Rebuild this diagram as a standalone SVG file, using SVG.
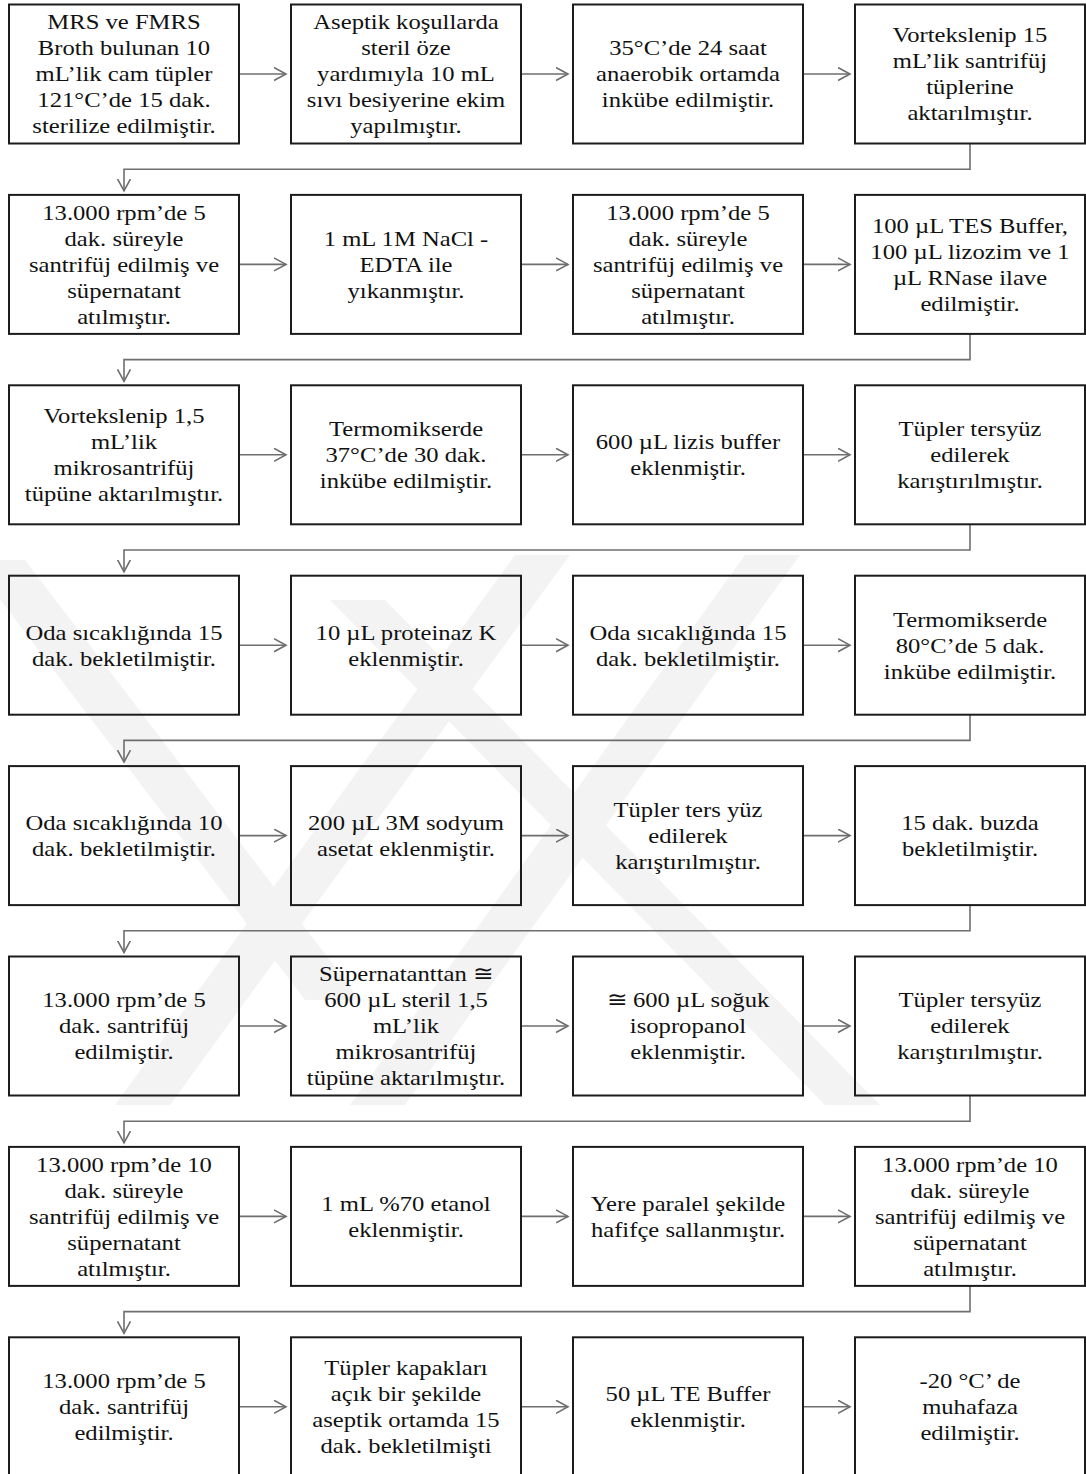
<svg xmlns="http://www.w3.org/2000/svg" width="1086" height="1474" viewBox="0 0 1086 1474">
<style>
.box{fill:none;stroke:#1c1c1c;stroke-width:2}
.t{font-family:"Liberation Serif",Tinos,"Times New Roman","DejaVu Serif",serif;font-size:22px;fill:#111;text-anchor:middle}
.c{fill:none;stroke:#6e6e6e;stroke-width:1.6}
.wm{fill:#f3f3f3}
</style>
<defs>
<marker id="ah" markerUnits="userSpaceOnUse" markerWidth="16" markerHeight="16" refX="12" refY="7" orient="auto">
<path d="M0,0.5 L12,7 L0,13.5" fill="none" stroke="#6e6e6e" stroke-width="1.6"/>
</marker>
</defs>
<rect width="1086" height="1474" fill="#fff"/>
<g id="watermark">
<polygon class="wm" points="515,555 570,555 170,1105 115,1105"/>
<polygon class="wm" points="745,555 800,555 405,1105 350,1105"/>
<polygon class="wm" points="-30,560 25,560 360,1000 305,1000"/>
<polygon class="wm" points="330,600 385,600 880,1105 825,1105"/>
</g>
<g id="connectors">
<line class="c" x1="239" y1="74" x2="286" y2="74" marker-end="url(#ah)"/>
<line class="c" x1="521" y1="74" x2="568" y2="74" marker-end="url(#ah)"/>
<line class="c" x1="803" y1="74" x2="850" y2="74" marker-end="url(#ah)"/>
<path class="c" d="M970,143.5 V169.2 H124 V190.9" marker-end="url(#ah)"/>
<line class="c" x1="239" y1="264.4" x2="286" y2="264.4" marker-end="url(#ah)"/>
<line class="c" x1="521" y1="264.4" x2="568" y2="264.4" marker-end="url(#ah)"/>
<line class="c" x1="803" y1="264.4" x2="850" y2="264.4" marker-end="url(#ah)"/>
<path class="c" d="M970,333.9 V359.6 H124 V381.3" marker-end="url(#ah)"/>
<line class="c" x1="239" y1="454.8" x2="286" y2="454.8" marker-end="url(#ah)"/>
<line class="c" x1="521" y1="454.8" x2="568" y2="454.8" marker-end="url(#ah)"/>
<line class="c" x1="803" y1="454.8" x2="850" y2="454.8" marker-end="url(#ah)"/>
<path class="c" d="M970,524.3 V550 H124 V571.7" marker-end="url(#ah)"/>
<line class="c" x1="239" y1="645.2" x2="286" y2="645.2" marker-end="url(#ah)"/>
<line class="c" x1="521" y1="645.2" x2="568" y2="645.2" marker-end="url(#ah)"/>
<line class="c" x1="803" y1="645.2" x2="850" y2="645.2" marker-end="url(#ah)"/>
<path class="c" d="M970,714.7 V740.4 H124 V762.1" marker-end="url(#ah)"/>
<line class="c" x1="239" y1="835.6" x2="286" y2="835.6" marker-end="url(#ah)"/>
<line class="c" x1="521" y1="835.6" x2="568" y2="835.6" marker-end="url(#ah)"/>
<line class="c" x1="803" y1="835.6" x2="850" y2="835.6" marker-end="url(#ah)"/>
<path class="c" d="M970,905.1 V930.8 H124 V952.5" marker-end="url(#ah)"/>
<line class="c" x1="239" y1="1026" x2="286" y2="1026" marker-end="url(#ah)"/>
<line class="c" x1="521" y1="1026" x2="568" y2="1026" marker-end="url(#ah)"/>
<line class="c" x1="803" y1="1026" x2="850" y2="1026" marker-end="url(#ah)"/>
<path class="c" d="M970,1095.5 V1121.2 H124 V1142.9" marker-end="url(#ah)"/>
<line class="c" x1="239" y1="1216.4" x2="286" y2="1216.4" marker-end="url(#ah)"/>
<line class="c" x1="521" y1="1216.4" x2="568" y2="1216.4" marker-end="url(#ah)"/>
<line class="c" x1="803" y1="1216.4" x2="850" y2="1216.4" marker-end="url(#ah)"/>
<path class="c" d="M970,1285.9 V1311.6 H124 V1333.3" marker-end="url(#ah)"/>
<line class="c" x1="239" y1="1406.8" x2="286" y2="1406.8" marker-end="url(#ah)"/>
<line class="c" x1="521" y1="1406.8" x2="568" y2="1406.8" marker-end="url(#ah)"/>
<line class="c" x1="803" y1="1406.8" x2="850" y2="1406.8" marker-end="url(#ah)"/>
</g>
<g id="n1"><rect class="box" x="9" y="4.5" width="230" height="139"/><text class="t" transform="matrix(1.12 0 0 1 124 0)" y="29.5"><tspan x="0">MRS ve FMRS</tspan><tspan x="0" dy="26">Broth bulunan 10</tspan><tspan x="0" dy="26">mL’lik cam tüpler</tspan><tspan x="0" dy="26">121°C’de 15 dak.</tspan><tspan x="0" dy="26">sterilize edilmiştir.</tspan></text></g>
<g id="n2"><rect class="box" x="291" y="4.5" width="230" height="139"/><text class="t" transform="matrix(1.12 0 0 1 406 0)" y="29.5"><tspan x="0">Aseptik koşullarda</tspan><tspan x="0" dy="26">steril öze</tspan><tspan x="0" dy="26">yardımıyla 10 mL</tspan><tspan x="0" dy="26">sıvı besiyerine ekim</tspan><tspan x="0" dy="26">yapılmıştır.</tspan></text></g>
<g id="n3"><rect class="box" x="573" y="4.5" width="230" height="139"/><text class="t" transform="matrix(1.12 0 0 1 688 0)" y="55.5"><tspan x="0">35°C’de 24 saat</tspan><tspan x="0" dy="26">anaerobik ortamda</tspan><tspan x="0" dy="26">inkübe edilmiştir.</tspan></text></g>
<g id="n4"><rect class="box" x="855" y="4.5" width="230" height="139"/><text class="t" transform="matrix(1.12 0 0 1 970 0)" y="42.5"><tspan x="0">Vortekslenip 15</tspan><tspan x="0" dy="26">mL’lik santrifüj</tspan><tspan x="0" dy="26">tüplerine</tspan><tspan x="0" dy="26">aktarılmıştır.</tspan></text></g>
<g id="n5"><rect class="box" x="9" y="194.9" width="230" height="139"/><text class="t" transform="matrix(1.12 0 0 1 124 0)" y="219.9"><tspan x="0">13.000 rpm’de 5</tspan><tspan x="0" dy="26">dak. süreyle</tspan><tspan x="0" dy="26">santrifüj edilmiş ve</tspan><tspan x="0" dy="26">süpernatant</tspan><tspan x="0" dy="26">atılmıştır.</tspan></text></g>
<g id="n6"><rect class="box" x="291" y="194.9" width="230" height="139"/><text class="t" transform="matrix(1.12 0 0 1 406 0)" y="245.9"><tspan x="0">1 mL 1M NaCl -</tspan><tspan x="0" dy="26">EDTA ile</tspan><tspan x="0" dy="26">yıkanmıştır.</tspan></text></g>
<g id="n7"><rect class="box" x="573" y="194.9" width="230" height="139"/><text class="t" transform="matrix(1.12 0 0 1 688 0)" y="219.9"><tspan x="0">13.000 rpm’de 5</tspan><tspan x="0" dy="26">dak. süreyle</tspan><tspan x="0" dy="26">santrifüj edilmiş ve</tspan><tspan x="0" dy="26">süpernatant</tspan><tspan x="0" dy="26">atılmıştır.</tspan></text></g>
<g id="n8"><rect class="box" x="855" y="194.9" width="230" height="139"/><text class="t" transform="matrix(1.12 0 0 1 970 0)" y="232.9"><tspan x="0">100 µL TES Buffer,</tspan><tspan x="0" dy="26">100 µL lizozim ve 1</tspan><tspan x="0" dy="26">µL RNase ilave</tspan><tspan x="0" dy="26">edilmiştir.</tspan></text></g>
<g id="n9"><rect class="box" x="9" y="385.3" width="230" height="139"/><text class="t" transform="matrix(1.12 0 0 1 124 0)" y="423.3"><tspan x="0">Vortekslenip 1,5</tspan><tspan x="0" dy="26">mL’lik</tspan><tspan x="0" dy="26">mikrosantrifüj</tspan><tspan x="0" dy="26">tüpüne aktarılmıştır.</tspan></text></g>
<g id="n10"><rect class="box" x="291" y="385.3" width="230" height="139"/><text class="t" transform="matrix(1.12 0 0 1 406 0)" y="436.3"><tspan x="0">Termomikserde</tspan><tspan x="0" dy="26">37°C’de 30 dak.</tspan><tspan x="0" dy="26">inkübe edilmiştir.</tspan></text></g>
<g id="n11"><rect class="box" x="573" y="385.3" width="230" height="139"/><text class="t" transform="matrix(1.12 0 0 1 688 0)" y="449.3"><tspan x="0">600 µL lizis buffer</tspan><tspan x="0" dy="26">eklenmiştir.</tspan></text></g>
<g id="n12"><rect class="box" x="855" y="385.3" width="230" height="139"/><text class="t" transform="matrix(1.12 0 0 1 970 0)" y="436.3"><tspan x="0">Tüpler tersyüz</tspan><tspan x="0" dy="26">edilerek</tspan><tspan x="0" dy="26">karıştırılmıştır.</tspan></text></g>
<g id="n13"><rect class="box" x="9" y="575.7" width="230" height="139"/><text class="t" transform="matrix(1.12 0 0 1 124 0)" y="639.7"><tspan x="0">Oda sıcaklığında  15</tspan><tspan x="0" dy="26">dak. bekletilmiştir.</tspan></text></g>
<g id="n14"><rect class="box" x="291" y="575.7" width="230" height="139"/><text class="t" transform="matrix(1.12 0 0 1 406 0)" y="639.7"><tspan x="0">10 µL proteinaz K</tspan><tspan x="0" dy="26">eklenmiştir.</tspan></text></g>
<g id="n15"><rect class="box" x="573" y="575.7" width="230" height="139"/><text class="t" transform="matrix(1.12 0 0 1 688 0)" y="639.7"><tspan x="0">Oda sıcaklığında  15</tspan><tspan x="0" dy="26">dak. bekletilmiştir.</tspan></text></g>
<g id="n16"><rect class="box" x="855" y="575.7" width="230" height="139"/><text class="t" transform="matrix(1.12 0 0 1 970 0)" y="626.7"><tspan x="0">Termomikserde</tspan><tspan x="0" dy="26">80°C’de 5 dak.</tspan><tspan x="0" dy="26">inkübe edilmiştir.</tspan></text></g>
<g id="n17"><rect class="box" x="9" y="766.1" width="230" height="139"/><text class="t" transform="matrix(1.12 0 0 1 124 0)" y="830.1"><tspan x="0">Oda sıcaklığında  10</tspan><tspan x="0" dy="26">dak. bekletilmiştir.</tspan></text></g>
<g id="n18"><rect class="box" x="291" y="766.1" width="230" height="139"/><text class="t" transform="matrix(1.12 0 0 1 406 0)" y="830.1"><tspan x="0">200 µL 3M sodyum</tspan><tspan x="0" dy="26">asetat eklenmiştir.</tspan></text></g>
<g id="n19"><rect class="box" x="573" y="766.1" width="230" height="139"/><text class="t" transform="matrix(1.12 0 0 1 688 0)" y="817.1"><tspan x="0">Tüpler ters yüz</tspan><tspan x="0" dy="26">edilerek</tspan><tspan x="0" dy="26">karıştırılmıştır.</tspan></text></g>
<g id="n20"><rect class="box" x="855" y="766.1" width="230" height="139"/><text class="t" transform="matrix(1.12 0 0 1 970 0)" y="830.1"><tspan x="0">15 dak. buzda</tspan><tspan x="0" dy="26">bekletilmiştir.</tspan></text></g>
<g id="n21"><rect class="box" x="9" y="956.5" width="230" height="139"/><text class="t" transform="matrix(1.12 0 0 1 124 0)" y="1007.5"><tspan x="0">13.000 rpm’de 5</tspan><tspan x="0" dy="26">dak. santrifüj</tspan><tspan x="0" dy="26">edilmiştir.</tspan></text></g>
<g id="n22"><rect class="box" x="291" y="956.5" width="230" height="139"/><text class="t" transform="matrix(1.12 0 0 1 406 0)" y="981.5"><tspan x="0">Süpernatanttan ≅</tspan><tspan x="0" dy="26">600 µL steril 1,5</tspan><tspan x="0" dy="26">mL’lik</tspan><tspan x="0" dy="26">mikrosantrifüj</tspan><tspan x="0" dy="26">tüpüne aktarılmıştır.</tspan></text></g>
<g id="n23"><rect class="box" x="573" y="956.5" width="230" height="139"/><text class="t" transform="matrix(1.12 0 0 1 688 0)" y="1007.5"><tspan x="0">≅ 600 µL soğuk</tspan><tspan x="0" dy="26">isopropanol</tspan><tspan x="0" dy="26">eklenmiştir.</tspan></text></g>
<g id="n24"><rect class="box" x="855" y="956.5" width="230" height="139"/><text class="t" transform="matrix(1.12 0 0 1 970 0)" y="1007.5"><tspan x="0">Tüpler tersyüz</tspan><tspan x="0" dy="26">edilerek</tspan><tspan x="0" dy="26">karıştırılmıştır.</tspan></text></g>
<g id="n25"><rect class="box" x="9" y="1146.9" width="230" height="139"/><text class="t" transform="matrix(1.12 0 0 1 124 0)" y="1171.9"><tspan x="0">13.000 rpm’de 10</tspan><tspan x="0" dy="26">dak. süreyle</tspan><tspan x="0" dy="26">santrifüj edilmiş ve</tspan><tspan x="0" dy="26">süpernatant</tspan><tspan x="0" dy="26">atılmıştır.</tspan></text></g>
<g id="n26"><rect class="box" x="291" y="1146.9" width="230" height="139"/><text class="t" transform="matrix(1.12 0 0 1 406 0)" y="1210.9"><tspan x="0">1 mL %70 etanol</tspan><tspan x="0" dy="26">eklenmiştir.</tspan></text></g>
<g id="n27"><rect class="box" x="573" y="1146.9" width="230" height="139"/><text class="t" transform="matrix(1.12 0 0 1 688 0)" y="1210.9"><tspan x="0">Yere paralel şekilde</tspan><tspan x="0" dy="26">hafifçe sallanmıştır.</tspan></text></g>
<g id="n28"><rect class="box" x="855" y="1146.9" width="230" height="139"/><text class="t" transform="matrix(1.12 0 0 1 970 0)" y="1171.9"><tspan x="0">13.000 rpm’de 10</tspan><tspan x="0" dy="26">dak. süreyle</tspan><tspan x="0" dy="26">santrifüj edilmiş ve</tspan><tspan x="0" dy="26">süpernatant</tspan><tspan x="0" dy="26">atılmıştır.</tspan></text></g>
<g id="n29"><rect class="box" x="9" y="1337.3" width="230" height="139"/><text class="t" transform="matrix(1.12 0 0 1 124 0)" y="1388.3"><tspan x="0">13.000 rpm’de 5</tspan><tspan x="0" dy="26">dak. santrifüj</tspan><tspan x="0" dy="26">edilmiştir.</tspan></text></g>
<g id="n30"><rect class="box" x="291" y="1337.3" width="230" height="139"/><text class="t" transform="matrix(1.12 0 0 1 406 0)" y="1375.3"><tspan x="0">Tüpler kapakları</tspan><tspan x="0" dy="26">açık bir şekilde</tspan><tspan x="0" dy="26">aseptik ortamda 15</tspan><tspan x="0" dy="26">dak. bekletilmişti</tspan></text></g>
<g id="n31"><rect class="box" x="573" y="1337.3" width="230" height="139"/><text class="t" transform="matrix(1.12 0 0 1 688 0)" y="1401.3"><tspan x="0">50 µL TE Buffer</tspan><tspan x="0" dy="26">eklenmiştir.</tspan></text></g>
<g id="n32"><rect class="box" x="855" y="1337.3" width="230" height="139"/><text class="t" transform="matrix(1.12 0 0 1 970 0)" y="1388.3"><tspan x="0">-20 °C’ de</tspan><tspan x="0" dy="26">muhafaza</tspan><tspan x="0" dy="26">edilmiştir.</tspan></text></g>
</svg>
